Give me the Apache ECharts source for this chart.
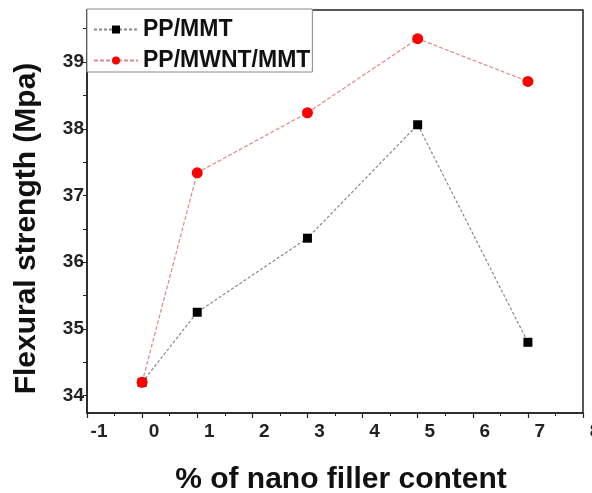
<!DOCTYPE html>
<html>
<head>
<meta charset="utf-8">
<script src="https://cdn.jsdelivr.net/npm/echarts@6/dist/echarts.min.js"></script>
<style>
html,body{margin:0;padding:0;background:#fff;}
#chart{width:592px;height:493px;}
</style>
</head>
<body>
<div id="chart"></div>
<script>
const xValues = [0, 1, 3, 5, 7];
const ppMmt = [34.2, 35.25, 36.36, 38.06, 34.8];
const ppMwntMmt = [34.2, 37.34, 38.24, 39.35, 38.71];
const seriesNames = ['PP/MMT', 'PP/MWNT/MMT'];
const yLabelValues = [34, 35, 36, 37, 38, 39];
const yTickValues = [34, 34.5, 35, 35.5, 36, 36.5, 37, 37.5, 38, 38.5, 39, 39.5];
const xTitle = '% of nano filler content';
const yTitle = 'Flexural strength (Mpa)';

const font = '"Liberation Sans", Arial, sans-serif';
const chart = echarts.init(document.getElementById('chart'), null, {renderer: 'canvas'});
chart.setOption({
  animation: false,
  backgroundColor: '#fff',
  grid: {left: 87, right: 9, top: 10, bottom: 80, show: true, borderColor: '#222', borderWidth: 1.5,
    backgroundColor: 'transparent', outerBoundsMode: 'none', containLabel: false},
  legend: {
    left: 87, top: 9, orient: 'vertical',
    backgroundColor: '#fff', borderColor: '#888', borderWidth: 1,
    padding: [9, 2, 0, 6], itemGap: 8, itemWidth: 44, itemHeight: 10,
    textStyle: {fontFamily: font, fontWeight: 'bold', fontSize: 23, lineHeight: 20, color: '#111'},
    data: seriesNames
  },
  xAxis: {
    type: 'value', min: -1, max: 8, interval: 1,
    name: xTitle, nameLocation: 'middle', nameGap: 52,
    nameTextStyle: {fontFamily: font, fontWeight: 'bold', fontSize: 30, color: '#111', padding: [0, 0, 0, 12]},
    axisLine: {show: true, onZero: false, lineStyle: {color: '#222', width: 1.5}},
    axisTick: {show: true, inside: false, length: 5, lineStyle: {color: '#222', width: 1.2}},
    minorTick: {show: true, splitNumber: 2, length: 3, lineStyle: {color: '#222', width: 1}},
    splitLine: {show: false},
    axisLabel: {fontFamily: font, fontWeight: 'bold', fontSize: 19, color: '#222', margin: 9, padding: [0, 0, 0, 24],
      formatter: v => String(v)}
  },
  yAxis: {
    type: 'value', min: 33.74, max: 39.78,
    name: yTitle, nameLocation: 'middle', nameGap: 45,
    nameTextStyle: {fontFamily: font, fontWeight: 'bold', fontSize: 30, color: '#111', padding: [0, 34, 0, 0]},
    axisLine: {show: true, onZero: false, lineStyle: {color: '#222', width: 1.5}},
    axisTick: {show: true, inside: false, length: 4, customValues: yTickValues, lineStyle: {color: '#222', width: 1}},
    splitLine: {show: false},
    axisLabel: {fontFamily: font, fontWeight: 'bold', fontSize: 19, color: '#222', margin: 3, customValues: yLabelValues,
      formatter: v => String(Math.round(v))}
  },
  series: [
    {
      name: seriesNames[0], type: 'line',
      data: xValues.map((x, i) => [x, ppMmt[i]]),
      symbol: 'rect', symbolSize: 9,
      itemStyle: {color: '#000'},
      lineStyle: {color: '#8a8a8a', width: 1.2, type: [3, 2]},
      z: 2
    },
    {
      name: seriesNames[1], type: 'line',
      data: xValues.map((x, i) => [x, ppMwntMmt[i]]),
      symbol: 'circle', symbolSize: 11,
      itemStyle: {color: '#ff0000'},
      lineStyle: {color: '#dc8a8a', width: 1.2, type: [4, 2]},
      z: 3
    }
  ]
});
</script>
</body>
</html>
